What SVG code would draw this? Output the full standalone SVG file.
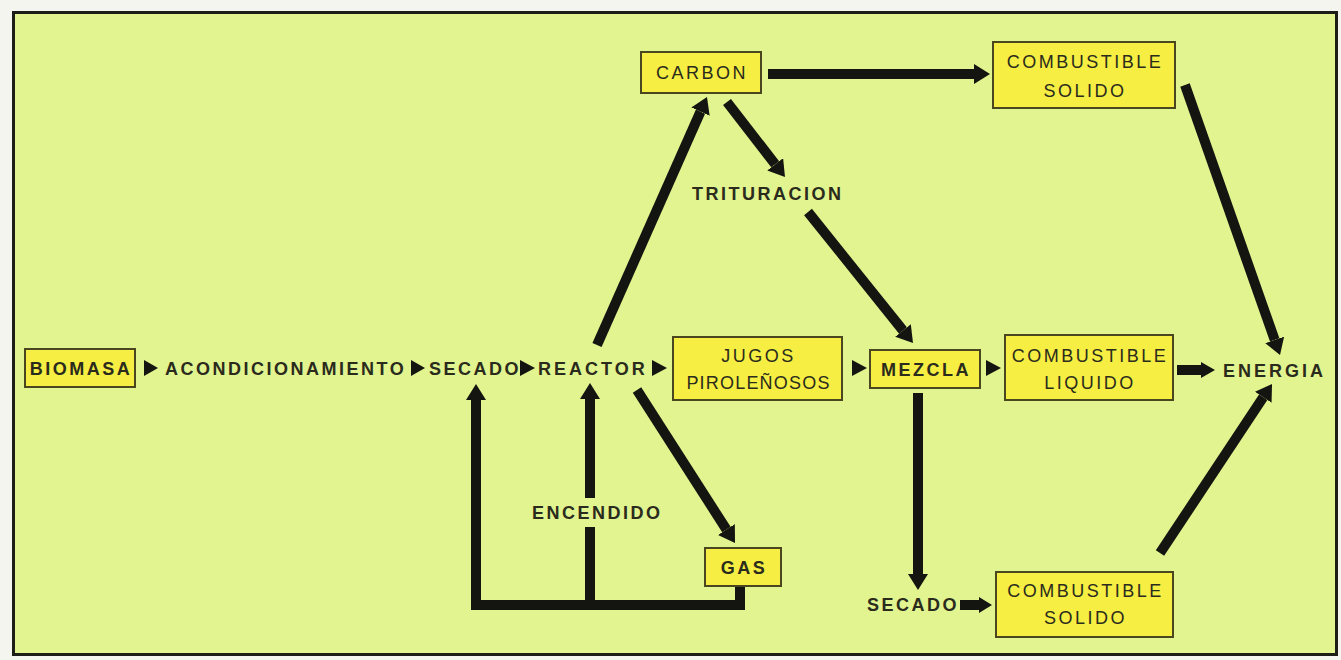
<svg xmlns="http://www.w3.org/2000/svg" width="1341" height="660" viewBox="0 0 1341 660">
  <style>
    .box { fill: #f6ee42; stroke: #4a4620; stroke-width: 2; }
    .t { font-family: "Liberation Sans", Arial, sans-serif; font-size: 18px; fill: #2a2b1c; letter-spacing: 2.5px; }
    .b { font-weight: bold; }
    .c { text-anchor: middle; }
    .ln { stroke: #141410; stroke-width: 10; fill: none; }
    .tri { fill: #141410; }
  </style>
  <defs>
    <marker id="head" viewBox="0 -10 16 20" refX="0" refY="0" markerWidth="16" markerHeight="20" markerUnits="userSpaceOnUse" orient="auto">
      <path d="M0,-10 L16,0 L0,10 Z" fill="#141410"/>
    </marker>
  </defs>

  <!-- page and frame -->
  <rect x="0" y="0" width="1341" height="660" fill="#f4f5ee"/>
  <rect x="13.5" y="12.5" width="1323" height="642" fill="#e1f48f" stroke="#1e1e18" stroke-width="3"/>

  <!-- connectors -->
  <g id="connectors">
    <line class="ln" x1="597" y1="345" x2="700.5" y2="111.6" marker-end="url(#head)"/>
    <line class="ln" x1="727" y1="102" x2="775.2" y2="164.3" marker-end="url(#head)"/>
    <line class="ln" x1="808" y1="212" x2="903" y2="330.5" marker-end="url(#head)"/>
    <line class="ln" x1="768" y1="74" x2="974" y2="74" marker-end="url(#head)"/>
    <line class="ln" x1="1185" y1="85" x2="1274.7" y2="339.9" marker-end="url(#head)"/>
    <line class="ln" x1="1160" y1="553" x2="1263.2" y2="397.3" marker-end="url(#head)"/>
    <line class="ln" x1="637" y1="390" x2="726.4" y2="529.5" marker-end="url(#head)"/>
    <line class="ln" x1="918" y1="393" x2="918" y2="574" marker-end="url(#head)"/>
    <!-- return loop from GAS -->
    <polyline class="ln" points="740,587 740,605 476,605 476,400" marker-end="url(#head)"/>
    <line class="ln" x1="590" y1="605" x2="590" y2="527"/>
    <line class="ln" x1="590" y1="498" x2="590" y2="399" marker-end="url(#head)"/>
    <!-- short bold arrows -->
    <path class="tri" d="M1177,365 L1201,365 L1201,362 L1215,370 L1201,378 L1201,375 L1177,375 Z"/>
    <path class="tri" d="M960,600 L979,600 L979,597 L992,605 L979,613 L979,610 L960,610 Z"/>
    <!-- small inline triangles -->
    <polygon class="tri" points="144,360 158,368 144,376"/>
    <polygon class="tri" points="411,360 425,368 411,376"/>
    <polygon class="tri" points="520,360 535,368 520,376"/>
    <polygon class="tri" points="652,360 667,368 652,376"/>
    <polygon class="tri" points="852,360 867,368 852,376"/>
    <polygon class="tri" points="986,360 1001,368 986,376"/>
  </g>

  <!-- nodes -->
  <g id="biomasa">
    <rect class="box" x="25" y="349" width="110" height="38"/>
    <text class="t b c" x="81" y="375">BIOMASA</text>
  </g>
  <g id="acondicionamiento">
    <text class="t b" x="165" y="375">ACONDICIONAMIENTO</text>
  </g>
  <g id="secado">
    <text class="t b" x="429" y="375">SECADO</text>
  </g>
  <g id="reactor">
    <text class="t b" x="538" y="375" style="letter-spacing:3px">REACTOR</text>
  </g>
  <g id="jugos">
    <rect class="box" x="673" y="337" width="169" height="63"/>
    <text class="t c" x="758.5" y="362">JUGOS</text>
    <text class="t c" x="758.5" y="389" style="letter-spacing:1.2px">PIROLEÑOSOS</text>
  </g>
  <g id="mezcla">
    <rect class="box" x="870" y="350" width="110" height="38"/>
    <text class="t b c" x="926" y="376">MEZCLA</text>
  </g>
  <g id="combustible-liquido">
    <rect class="box" x="1005" y="335" width="168" height="65"/>
    <text class="t c" x="1090" y="362">COMBUSTIBLE</text>
    <text class="t c" x="1090" y="389">LIQUIDO</text>
  </g>
  <g id="energia">
    <text class="t b" x="1223" y="377" style="letter-spacing:3px">ENERGIA</text>
  </g>
  <g id="carbon">
    <rect class="box" x="641" y="52" width="120" height="41"/>
    <text class="t c" x="702" y="79">CARBON</text>
  </g>
  <g id="combustible-solido-1">
    <rect class="box" x="993" y="42" width="182" height="66"/>
    <text class="t c" x="1085" y="68">COMBUSTIBLE</text>
    <text class="t c" x="1085" y="97">SOLIDO</text>
  </g>
  <g id="trituracion">
    <text class="t b" x="692" y="200">TRITURACION</text>
  </g>
  <g id="encendido">
    <text class="t b" x="532" y="519">ENCENDIDO</text>
  </g>
  <g id="gas">
    <rect class="box" x="705" y="548" width="76" height="38"/>
    <text class="t b c" x="744" y="574">GAS</text>
  </g>
  <g id="secado-2">
    <text class="t b" x="867" y="611">SECADO</text>
  </g>
  <g id="combustible-solido-2">
    <rect class="box" x="996" y="572" width="177" height="65"/>
    <text class="t c" x="1085.5" y="597">COMBUSTIBLE</text>
    <text class="t c" x="1085.5" y="624">SOLIDO</text>
  </g>
</svg>
